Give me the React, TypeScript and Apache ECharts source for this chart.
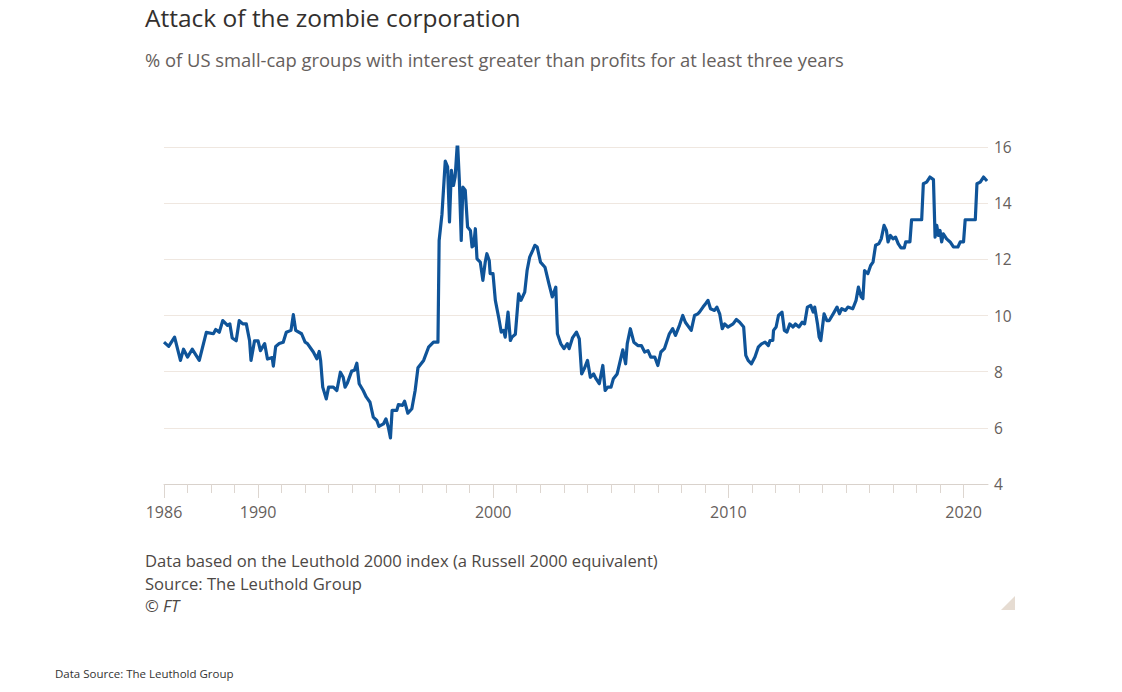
import React, { useEffect, useRef } from "react";
import * as echarts from "echarts";

const years: number[] = [
  1986.0, 1986.2, 1986.45, 1986.7, 1986.83, 1987.0, 1987.2, 1987.5, 1987.8, 1988.1,
  1988.2, 1988.35, 1988.5, 1988.7, 1988.8, 1988.9, 1989.07, 1989.2, 1989.35, 1989.5,
  1989.64, 1989.7, 1989.85, 1990.0, 1990.1, 1990.28, 1990.4, 1990.6, 1990.65, 1990.75,
  1990.9, 1991.07, 1991.2, 1991.4, 1991.5, 1991.6, 1991.85, 1992.0, 1992.1, 1992.35,
  1992.5, 1992.6, 1992.66, 1992.75, 1992.9, 1993.0, 1993.2, 1993.35, 1993.5, 1993.62,
  1993.7, 1993.8, 1993.98, 1994.1, 1994.2, 1994.3, 1994.47, 1994.6, 1994.76, 1994.9,
  1995.05, 1995.14, 1995.33, 1995.44, 1995.54, 1995.63, 1995.7, 1995.9, 1995.97, 1996.14,
  1996.23, 1996.37, 1996.54, 1996.68, 1996.8, 1997.04, 1997.25, 1997.46, 1997.65, 1997.7,
  1997.82, 1997.96, 1998.06, 1998.14, 1998.22, 1998.31, 1998.38, 1998.48, 1998.56, 1998.64,
  1998.71, 1998.81, 1998.91, 1999.03, 1999.1, 1999.17, 1999.24, 1999.31, 1999.45, 1999.56,
  1999.66, 1999.73, 1999.83, 1999.87, 1999.99, 2000.09, 2000.23, 2000.34, 2000.44, 2000.51,
  2000.63, 2000.73, 2000.8, 2000.94, 2001.08, 2001.18, 2001.34, 2001.44, 2001.55, 2001.68,
  2001.77, 2001.87, 2002.01, 2002.2, 2002.37, 2002.51, 2002.66, 2002.73, 2002.87, 2003.01,
  2003.15, 2003.23, 2003.37, 2003.54, 2003.66, 2003.76, 2003.87, 2004.01, 2004.13, 2004.27,
  2004.37, 2004.51, 2004.66, 2004.76, 2004.87, 2005.01, 2005.11, 2005.27, 2005.37, 2005.51,
  2005.63, 2005.7, 2005.83, 2005.98, 2006.15, 2006.3, 2006.44, 2006.58, 2006.7, 2006.87,
  2007.0, 2007.13, 2007.28, 2007.49, 2007.63, 2007.75, 2007.92, 2008.06, 2008.17, 2008.42,
  2008.56, 2008.7, 2008.77, 2008.92, 2009.03, 2009.13, 2009.24, 2009.41, 2009.51, 2009.63,
  2009.74, 2009.84, 2009.98, 2010.2, 2010.34, 2010.48, 2010.65, 2010.74, 2010.84, 2010.98,
  2011.13, 2011.27, 2011.41, 2011.56, 2011.7, 2011.77, 2011.89, 2011.92, 2012.03, 2012.13,
  2012.28, 2012.38, 2012.49, 2012.61, 2012.75, 2012.85, 2013.0, 2013.14, 2013.24, 2013.36,
  2013.5, 2013.61, 2013.67, 2013.79, 2013.86, 2013.93, 2014.07, 2014.19, 2014.29, 2014.5,
  2014.62, 2014.72, 2014.82, 2014.98, 2015.08, 2015.29, 2015.43, 2015.53, 2015.65, 2015.72,
  2015.79, 2015.93, 2016.05, 2016.15, 2016.26, 2016.4, 2016.5, 2016.62, 2016.72, 2016.79,
  2016.89, 2017.0, 2017.11, 2017.22, 2017.34, 2017.48, 2017.54, 2017.72, 2017.79, 2018.22,
  2018.29, 2018.43, 2018.57, 2018.72, 2018.79, 2018.86, 2018.93, 2019.0, 2019.07, 2019.14,
  2019.28, 2019.43, 2019.57, 2019.76, 2019.86, 2020.0, 2020.07, 2020.5, 2020.57, 2020.71,
  2020.85, 2021.0,
];

const zombieShare: number[] = [
  9.05, 8.9, 9.23, 8.4, 8.8, 8.52, 8.8, 8.4, 9.4, 9.35,
  9.5, 9.4, 9.82, 9.65, 9.7, 9.2, 9.1, 9.82, 9.7, 9.7,
  9.1, 8.4, 9.1, 9.1, 8.75, 9.0, 8.45, 8.5, 8.2, 8.9,
  9.0, 9.05, 9.4, 9.47, 10.03, 9.47, 9.35, 9.05, 9.0, 8.7,
  8.46, 8.72, 8.4, 7.45, 7.03, 7.45, 7.45, 7.33, 7.98, 7.8,
  7.45, 7.6, 8.02, 8.05, 8.3, 7.57, 7.33, 7.1, 6.91, 6.38,
  6.26, 6.05, 6.14, 6.32, 6.02, 5.64, 6.62, 6.62, 6.83, 6.8,
  6.95, 6.52, 6.68, 7.33, 8.14, 8.4, 8.87, 9.05, 9.05, 12.67,
  13.6, 15.5, 15.29, 13.33, 15.17, 14.63, 14.93, 16.21, 14.8, 12.67,
  14.57, 14.46, 13.15, 13.03, 12.44, 12.5, 13.09, 12.02, 11.9, 11.25,
  11.9, 12.2, 11.96, 11.49, 11.49, 10.54, 9.94, 9.41, 9.47, 9.23,
  10.12, 9.11, 9.23, 9.33, 10.77, 10.54, 10.83, 11.6, 12.08, 12.32,
  12.5, 12.44, 11.9, 11.72, 11.13, 10.66, 11.01, 9.35, 9.0, 8.82,
  9.0, 8.82, 9.2, 9.41, 9.17, 7.92, 8.1, 8.4, 7.8, 7.92,
  7.75, 7.57, 8.22, 7.33, 7.45, 7.45, 7.75, 7.92, 8.28, 8.78,
  8.28, 9.0, 9.53, 9.05, 8.93, 8.93, 8.7, 8.75, 8.52, 8.52,
  8.22, 8.7, 8.82, 9.35, 9.53, 9.29, 9.65, 10.0, 9.76, 9.47,
  10.0, 10.06, 10.12, 10.3, 10.42, 10.54, 10.24, 10.18, 10.3, 10.06,
  9.53, 9.7, 9.59, 9.7, 9.86, 9.76, 9.59, 8.58, 8.4, 8.28,
  8.52, 8.87, 8.99, 9.05, 8.93, 9.11, 9.11, 9.47, 9.59, 10.0,
  10.12, 9.47, 9.41, 9.7, 9.59, 9.7, 9.59, 9.76, 9.7, 10.3,
  10.36, 10.12, 10.3, 9.7, 9.23, 9.11, 10.06, 9.82, 9.82, 10.12,
  10.3, 10.06, 10.24, 10.18, 10.3, 10.24, 10.54, 11.01, 10.66, 10.6,
  11.6, 11.49, 11.78, 11.9, 12.5, 12.56, 12.73, 13.21, 13.03, 12.62,
  12.85, 12.73, 12.79, 12.56, 12.41, 12.41, 12.62, 12.62, 13.41, 13.41,
  14.69, 14.75, 14.93, 14.84, 12.79, 13.21, 12.85, 13.03, 12.62, 12.91,
  12.73, 12.62, 12.44, 12.44, 12.62, 12.62, 13.41, 13.41, 14.69, 14.75,
  14.93, 14.79,
];

const tickYears: number[] = [];
for (let y = 1986; y <= 2020; y++) tickYears.push(y);
const labelYears: number[] = [1986, 1990, 2000, 2010, 2020];
const yTicks = { min: 4, max: 16, interval: 2 };

const titleText = "Attack of the zombie corporation";
const subtitleText = "% of US small-cap groups with interest greater than profits for at least three years";
const noteLines: string[] = [
  "Data based on the Leuthold 2000 index (a Russell 2000 equivalent)",
  "Source: The Leuthold Group",
];
const copyrightText = "© FT";
const bottomSource = "Data Source: The Leuthold Group";

const FONT = "'Open Sans', Lato, sans-serif";

export default function App() {
  const ref = useRef<HTMLDivElement>(null);
  useEffect(() => {
    document.body.style.margin = "0";
    if (!ref.current) return;
    const chart = echarts.init(ref.current, undefined, { renderer: "svg" });
    const data = years.map((y, i) => [y, zombieShare[i]]);
    chart.setOption({
      animation: false,
      backgroundColor: "#ffffff",
      textStyle: { fontFamily: FONT },
      grid: { left: 164, right: 134, top: 147, bottom: 208, containLabel: false },
      xAxis: [
        {
          type: "value",
          min: 1986,
          max: 2021.04,
          position: "bottom",
          axisLine: { show: true, lineStyle: { color: "#d9d2cc", width: 1 } },
          axisTick: {
            show: true,
            customValues: tickYears,
            length: 9,
            lineStyle: { color: "#ddd6d0", width: 1 },
          },
          axisLabel: {
            customValues: labelYears,
            formatter: (v: number) => String(Math.round(v)),
            color: "#66605c",
            fontSize: 16,
            fontFamily: FONT,
            margin: 20,
          },
          splitLine: { show: false },
        },
        {
          type: "value",
          min: 1986,
          max: 2021.04,
          position: "bottom",
          axisLine: { show: false },
          axisTick: {
            show: true,
            customValues: labelYears,
            length: 14,
            lineStyle: { color: "#ddd6d0", width: 1 },
          },
          axisLabel: { show: false },
          splitLine: { show: false },
        },
      ],
      yAxis: {
        type: "value",
        position: "right",
        min: yTicks.min,
        max: yTicks.max,
        interval: yTicks.interval,
        axisLine: { show: false },
        axisTick: { show: false },
        axisLabel: {
          color: "#66605c",
          fontSize: 15.5,
          fontFamily: FONT,
          margin: 6,
        },
        splitLine: { show: true, lineStyle: { color: "#efe7e0", width: 1 } },
      },
      series: [
        {
          type: "line",
          xAxisIndex: 0,
          data,
          showSymbol: false,
          symbol: "none",
          lineStyle: { color: "#0f5499", width: 3.2, join: "round" },
          itemStyle: { color: "#0f5499" },
        },
      ],
      graphic: [
        {
          type: "text",
          left: 145,
          top: 5,
          style: { text: titleText, fill: "#33302e", fontSize: 24.5, fontFamily: FONT },
        },
        {
          type: "text",
          left: 145,
          top: 50,
          style: { text: subtitleText, fill: "#66605c", fontSize: 18.4, fontFamily: FONT },
        },
        {
          type: "text",
          left: 145,
          top: 552,
          style: { text: noteLines[0], fill: "#4d4845", fontSize: 16.6, fontFamily: FONT },
        },
        {
          type: "text",
          left: 145,
          top: 575,
          style: { text: noteLines[1], fill: "#4d4845", fontSize: 16.6, fontFamily: FONT },
        },
        {
          type: "text",
          left: 145,
          top: 597,
          style: {
            text: copyrightText,
            fill: "#4d4845",
            fontSize: 16.6,
            fontStyle: "italic",
            fontFamily: FONT,
          },
        },
        {
          type: "polygon",
          shape: { points: [[1015, 596], [1015, 610], [1001, 610]] },
          style: { fill: "#e6dcd2" },
        },
        {
          type: "text",
          left: 55,
          top: 667,
          style: { text: bottomSource, fill: "#333333", fontSize: 11.5, fontFamily: "'Open Sans', sans-serif" },
        },
      ],
    });
    return () => chart.dispose();
  }, []);
  return (
    <div
      ref={ref}
      style={{ position: "absolute", left: 0, top: 0, width: 1122, height: 692, background: "#fff" }}
    />
  );
}
